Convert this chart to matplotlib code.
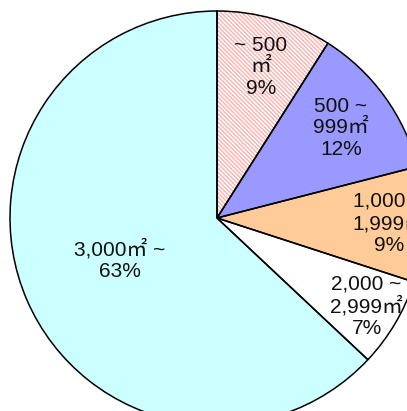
import numpy as np
import matplotlib
matplotlib.use("Agg")
import matplotlib.pyplot as plt

plt.rcParams['font.family'] = ['Liberation Sans', 'Noto Sans CJK JP']
plt.rcParams['hatch.linewidth'] = 1.0

# share of sites by area, clockwise from the top
labels = ["~ 500\n㎡", "500 ~\n999㎡", "1,000 ~\n1,999㎡", "2,000 ~\n2,999㎡", "3,000㎡ ~"]
shares = [9, 12, 9, 7, 63]
colors = ["white", "#9999FF", "#FFCC99", "white", "#CCFFFF"]

# where the text sits inside each wedge (fraction of radius)
text_r = [0.76, 0.74, 0.83, 0.84, 0.51]

fig = plt.figure(figsize=(4.07, 4.11), dpi=100)
ax = fig.add_axes([0, 0, 1, 1])

wedges, _ = ax.pie(shares, colors=colors, startangle=90, counterclock=False,
                   wedgeprops=dict(linewidth=0))
# hatched first slice
wedges[0].set_hatch("\\\\\\\\\\\\\\\\")
wedges[0].set_edgecolor("#FFB0B0")

# black outlines on top
ax.pie(shares, colors=["none"] * len(shares), startangle=90, counterclock=False,
       wedgeprops=dict(linewidth=1.1, edgecolor="black", fill=False))

for w, lab, s, r in zip(wedges, labels, shares, text_r):
    th = np.deg2rad((w.theta1 + w.theta2) / 2)
    ax.text(r * np.cos(th), r * np.sin(th), f"{lab}\n{s}%",
            ha="center", va="center", multialignment="center",
            fontsize=15, linespacing=1.15, color="#111111")

scale = 207.0
ax.set_xlim(-217 / scale, (407 - 217) / scale)
ax.set_ylim(-(411 - 218) / scale, 218 / scale)
ax.set_aspect("equal")
ax.axis("off")

fig.savefig("out.png", dpi=100)
